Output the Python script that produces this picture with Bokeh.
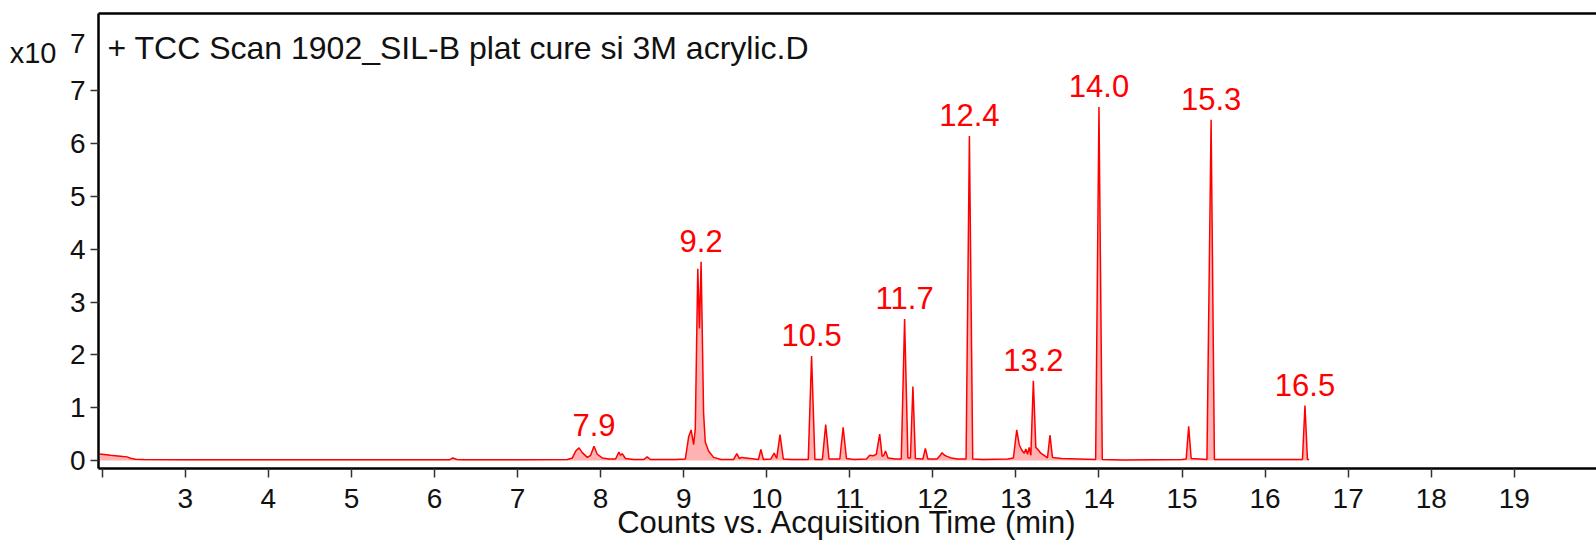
from bokeh.plotting import figure
from bokeh.models import FixedTicker, LinearAxis, Label, ColumnDataSource, Range1d
from bokeh.core.properties import value
from bokeh.embed import file_html
from bokeh.resources import INLINE

# ---- data (intensity in units of 10^7 counts, time in min) ----
time_min = [
    1.97, 2.10, 2.25, 2.30, 2.34, 2.40, 2.50, 3.0, 4.0, 5.0, 6.0, 6.18, 6.22, 6.27, 6.35, 7.0, 7.60,
    7.66, 7.70, 7.74, 7.78, 7.84, 7.88, 7.92, 7.96, 8.02, 8.10,
    8.18, 8.22, 8.24, 8.26, 8.30, 8.40, 8.52, 8.56, 8.60, 8.90,
    9.02, 9.06, 9.09, 9.12, 9.14, 9.17, 9.19, 9.21, 9.24, 9.26, 9.30, 9.36, 9.45,
    9.60, 9.64, 9.67, 9.70, 9.75, 9.85, 9.90, 9.93, 9.96, 10.05, 10.09, 10.12, 10.16, 10.20, 10.30,
    10.50, 10.54, 10.58, 10.67, 10.71, 10.75, 10.88, 10.92, 10.96, 11.05,
    11.20, 11.24, 11.28, 11.32, 11.36, 11.39, 11.41, 11.43, 11.46, 11.55,
    11.62, 11.66, 11.70, 11.73, 11.76, 11.79, 11.88, 11.91, 11.94, 12.05, 12.09, 12.11, 12.14,
    12.17, 12.22, 12.30,
    12.40, 12.44, 12.48, 12.60, 12.90,
    12.97, 13.01, 13.04, 13.07, 13.10, 13.12, 13.14, 13.16, 13.18, 13.21, 13.24, 13.27, 13.30,
    13.34, 13.38, 13.41, 13.44, 13.55,
    13.96, 14.00, 14.04, 14.30, 15.00,
    15.05, 15.08, 15.11, 15.30, 15.35, 15.39, 15.60, 16.30, 16.45, 16.48, 16.51, 16.53,
]
counts_e7 = [
    0.125, 0.10, 0.075, 0.07, 0.045, 0.025, 0.02, 0.015, 0.015, 0.015, 0.015, 0.015, 0.05, 0.02, 0.015, 0.015, 0.02,
    0.05, 0.18, 0.24, 0.15, 0.06, 0.10, 0.27, 0.12, 0.05, 0.03,
    0.03, 0.16, 0.10, 0.13, 0.04, 0.02, 0.02, 0.07, 0.02, 0.02,
    0.03, 0.45, 0.58, 0.30, 0.60, 3.63, 2.50, 3.76, 0.90, 0.35, 0.18, 0.06, 0.02,
    0.02, 0.13, 0.04, 0.06, 0.05, 0.03, 0.02, 0.21, 0.02, 0.03, 0.14, 0.04, 0.49, 0.03, 0.02,
    0.02, 1.98, 0.02, 0.02, 0.68, 0.03, 0.03, 0.63, 0.04, 0.02,
    0.03, 0.10, 0.09, 0.12, 0.50, 0.08, 0.10, 0.18, 0.05, 0.03,
    0.03, 2.68, 0.05, 0.05, 1.40, 0.04, 0.03, 0.23, 0.03, 0.03, 0.10, 0.15, 0.10,
    0.08, 0.05, 0.03,
    0.03, 6.14, 0.03, 0.02, 0.03,
    0.05, 0.58, 0.30, 0.20, 0.14, 0.22, 0.12, 0.25, 0.10, 1.51, 0.25, 0.20, 0.14,
    0.10, 0.05, 0.48, 0.06, 0.04,
    0.02, 6.69, 0.02, 0.01, 0.02,
    0.03, 0.65, 0.04, 0.02, 6.45, 0.02, 0.02, 0.02, 0.02, 1.04, 0.02, 0.02,
]

peak_labels = ["7.9", "9.2", "10.5", "11.7", "12.4", "13.2", "14.0", "15.3", "16.5"]
peak_time = [7.92, 9.21, 10.54, 11.66, 12.44, 13.21, 14.00, 15.35, 16.48]
peak_height = [0.27, 3.76, 1.98, 2.68, 6.14, 1.51, 6.69, 6.45, 1.04]

x_ticks = list(range(2, 20))
x_tick_labels = [""] + [str(v) for v in range(3, 20)]
y_ticks = list(range(0, 8))
y_tick_labels = [str(v) for v in range(0, 8)]
exp_pos = [7.90]          # position of the exponent "7"
exp_text = ["7"]
mult_pos = [7.72]         # position of "x10"
mult_text = ["x10"]
title_text = "+ TCC Scan 1902_SIL-B plat cure si 3M acrylic.D"
x_label = "Counts vs. Acquisition Time (min)"

FONT = "Liberation Sans"
RED = "#ff0000"
INK = "#111111"

p = figure(width=1596, height=542, output_backend="svg", toolbar_location=None,
           x_range=Range1d(1.955, 19.99), y_range=Range1d(-0.15, 8.46),
           min_border_left=98, min_border_right=0, min_border_top=13, min_border_bottom=72)
p.outline_line_color = None
p.grid.visible = False
p.background_fill_color = "white"
p.border_fill_color = "white"

src = ColumnDataSource(dict(t=time_min, y=counts_e7))
p.varea(x="t", y1=0, y2="y", source=src, fill_color=RED, fill_alpha=0.3)
p.line(x="t", y="y", source=src, line_color=RED, line_width=1.5)

lab = ColumnDataSource(dict(t=peak_time, y=peak_height, txt=peak_labels))
p.text(x="t", y="y", text="txt", source=lab, text_color=RED, text_font=value(FONT),
       text_font_size="31px", text_align="center", text_baseline="bottom", y_offset=-10)

# x axis
xa = p.xaxis[0]
xa.ticker = FixedTicker(ticks=x_ticks)
xa.major_label_overrides = dict(zip(x_ticks, x_tick_labels))
xa.axis_line_width = 2.5
xa.axis_line_color = "black"
xa.major_tick_in = 0
xa.major_tick_out = 9
xa.major_tick_line_width = 1.5
xa.major_tick_line_color = "#333333"
xa.minor_tick_line_color = None
xa.major_label_text_font = FONT
xa.major_label_text_font_size = "28px"
xa.major_label_text_color = INK
xa.major_label_standoff = 11
xa.axis_label = x_label
xa.axis_label_text_font = FONT
xa.axis_label_text_font_style = "normal"
xa.axis_label_text_font_size = "31px"
xa.axis_label_text_color = INK
xa.axis_label_standoff = -6

# y axis: inner axis carries the line and tick marks only
ya = p.yaxis[0]
ya.ticker = FixedTicker(ticks=y_ticks)
ya.major_label_overrides = {v: "" for v in y_ticks}
ya.major_label_text_font_size = "1px"
ya.major_label_standoff = 0
ya.axis_line_width = 2.5
ya.axis_line_color = "black"
ya.major_tick_in = 0
ya.major_tick_out = 8
ya.major_tick_line_width = 1.5
ya.major_tick_line_color = "#333333"
ya.minor_tick_line_color = None

# second left axis: tick labels and the exponent
lab_ticks = y_ticks + exp_pos
lab_text = y_tick_labels + exp_text
ya2 = LinearAxis(ticker=FixedTicker(ticks=lab_ticks),
                 major_label_overrides=dict(zip(lab_ticks, lab_text)),
                 axis_line_color=None, major_tick_line_color=None, minor_tick_line_color=None,
                 major_tick_in=0, major_tick_out=0, major_label_standoff=5,
                 major_label_text_font=FONT, major_label_text_font_size="28px",
                 major_label_text_color=INK)
p.add_layout(ya2, "left")

# third left axis: the "x10" multiplier
ya3 = LinearAxis(ticker=FixedTicker(ticks=mult_pos),
                 major_label_overrides=dict(zip(mult_pos, mult_text)),
                 axis_line_color=None, major_tick_line_color=None, minor_tick_line_color=None,
                 major_tick_in=0, major_tick_out=0, major_label_standoff=10,
                 major_label_text_font=FONT, major_label_text_font_size="29px",
                 major_label_text_color=INK)
p.add_layout(ya3, "left")

# top border line
top = LinearAxis(ticker=FixedTicker(ticks=[]), axis_line_width=2.5, axis_line_color="black",
                 major_tick_in=0, major_tick_out=0, minor_tick_in=0, minor_tick_out=0,
                 major_label_standoff=0, major_label_text_font_size="0px")
p.add_layout(top, "above")

# title inside the frame
p.add_layout(Label(x=9, y=420.7, x_units="screen", y_units="screen", text=title_text,
                   text_font=FONT, text_font_size="32px", text_color=INK,
                   text_baseline="alphabetic"))

open("out.html", "w").write(file_html(p, INLINE))
